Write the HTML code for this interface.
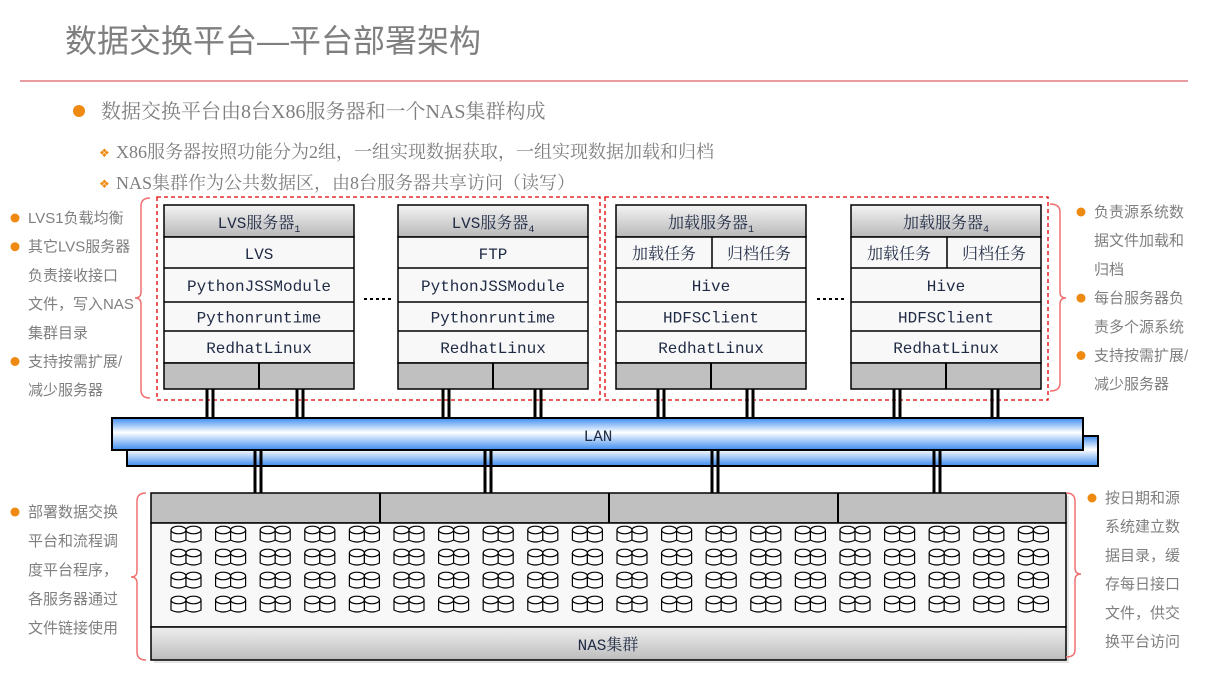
<!DOCTYPE html>
<html><head><meta charset="utf-8"><style>
html,body{margin:0;padding:0;background:#fff;}
svg{display:block;}
.sv{font-family:"Liberation Mono","Noto Serif CJK SC",monospace;font-size:16px;fill:#1f2a44;}
.side{font-family:"Liberation Sans","Noto Sans CJK SC",sans-serif;font-size:15px;fill:#7f7f7f;}
</style></head><body>
<svg id="s" width="1209" height="680" viewBox="0 0 1209 680" xmlns="http://www.w3.org/2000/svg">
<defs>
<linearGradient id="hd" x1="0" y1="0" x2="0" y2="1"><stop offset="0" stop-color="#f4f4f4"/><stop offset="1" stop-color="#b8b8b8"/></linearGradient>
<linearGradient id="lan" x1="0" y1="0" x2="0" y2="1"><stop offset="0" stop-color="#3d8cf0"/><stop offset="0.45" stop-color="#ffffff"/><stop offset="1" stop-color="#3d8cf0"/></linearGradient>
<linearGradient id="nb" x1="0" y1="0" x2="0" y2="1"><stop offset="0" stop-color="#eeeeee"/><stop offset="1" stop-color="#bdbdbd"/></linearGradient>
</defs>
<text x="65" y="52" font-family="Liberation Sans,Noto Sans CJK SC,sans-serif" font-size="32" fill="#7f7f7f">数据交换平台—平台部署架构</text>
<line x1="20" y1="81" x2="1188" y2="81" stroke="#e07a80" stroke-width="1.5"/>
<circle cx="79" cy="111" r="6" fill="#ee8a12"/>
<text x="101" y="118" font-family="Liberation Serif,Noto Serif CJK SC,serif" font-size="20" fill="#7f7f7f">数据交换平台由8台X86服务器和一个NAS集群构成</text>
<text x="99" y="157" font-size="12" fill="#ee8a12">❖</text>
<text x="116" y="158" font-family="Liberation Serif,Noto Serif CJK SC,serif" font-size="18" fill="#7f7f7f">X86服务器按照功能分为2组，一组实现数据获取，一组实现数据加载和归档</text>
<text x="99" y="188" font-size="12" fill="#ee8a12">❖</text>
<text x="116" y="189" font-family="Liberation Serif,Noto Serif CJK SC,serif" font-size="18" fill="#7f7f7f">NAS集群作为公共数据区，由8台服务器共享访问（读写）</text>

<rect x="157" y="197" width="443" height="203" fill="none" stroke="#e00000" stroke-width="1.3" stroke-dasharray="4,3"/>
<rect x="605" y="197" width="443" height="203" fill="none" stroke="#e00000" stroke-width="1.3" stroke-dasharray="4,3"/>
<g id="servers"></g>
<g stroke="#000" stroke-width="2" stroke-dasharray="3,3"><line x1="364" y1="299" x2="393" y2="299"/><line x1="817" y1="299" x2="846" y2="299"/></g>

<g id="conn" stroke="#000" stroke-width="3"></g>
<rect x="127" y="436" width="971" height="30" fill="url(#lan)" stroke="#000" stroke-width="2"/>
<rect x="112" y="418" width="971" height="32" fill="url(#lan)" stroke="#000" stroke-width="2"/>
<text x="598" y="441" text-anchor="middle" class="sv" font-size="15">LAN</text>
<g id="conn2" stroke="#000" stroke-width="3"></g>

<rect x="154" y="496" width="915" height="167" fill="#ccc" opacity="0.5"/>
<rect x="151" y="493" width="915" height="30" fill="#c0c0c0" stroke="#000" stroke-width="1.5"/>
<g stroke="#000" stroke-width="2"><line x1="380" y1="493" x2="380" y2="523"/><line x1="609" y1="493" x2="609" y2="523"/><line x1="838" y1="493" x2="838" y2="523"/></g>
<rect x="151" y="523" width="915" height="104" fill="#f8f8f8" stroke="#000" stroke-width="1.5"/>
<rect x="151" y="627" width="915" height="33" fill="url(#nb)" stroke="#000" stroke-width="1.5"/>
<text x="608" y="650" text-anchor="middle" class="sv">NAS集群</text>
<g id="disks" fill="#fff" stroke="#000" stroke-width="1.2"></g>

<g fill="none" stroke="#f07070" stroke-width="1.5">
<path d="M150,198 Q141,198 141,206 L141,292 Q141,298 135,298 Q141,298 141,304 L141,390 Q141,398 150,398"/>
<path d="M1050,204 Q1060,204 1060,212 L1060,292 Q1060,298 1066,298 Q1060,298 1060,304 L1060,383 Q1060,391 1050,391"/>
<path d="M146,493 Q137,493 137,501 L137,571 Q137,577 131,577 Q137,577 137,583 L137,652 Q137,660 146,660"/>
<path d="M1066,493 Q1075,493 1075,501 L1075,568 Q1075,574 1081,574 Q1075,574 1075,580 L1075,650 Q1075,657 1066,657"/>
</g>
<g id="side"></g>
</svg>
<script>
var NS="http://www.w3.org/2000/svg";
function el(p,t,a,txt){var e=document.createElementNS(NS,t);for(var k in a)e.setAttribute(k,a[k]);if(txt!=null)e.textContent=txt;document.getElementById(p).appendChild(e);return e;}
var rowsY=[237,268,302,331,363];
function server(x,title,sub,r1,rest){
 var w=190,cx=x+w/2;
 el("servers","rect",{x:x,y:205,width:w,height:32,fill:"url(#hd)",stroke:"#000","stroke-width":1.5});
 var t=el("servers","text",{x:cx,y:228,"text-anchor":"middle","class":"sv","font-size":17});
 t.appendChild(document.createTextNode(title));
 var ts=document.createElementNS(NS,"tspan");ts.setAttribute("font-size","10");ts.setAttribute("dy","4");ts.textContent=sub;t.appendChild(ts);
 el("servers","rect",{x:x,y:237,width:w,height:126,fill:"#f8f8f8",stroke:"#000","stroke-width":1.5});
 for(var i=1;i<4;i++)el("servers","line",{x1:x,y1:rowsY[i],x2:x+w,y2:rowsY[i],stroke:"#000","stroke-width":1.5});
 if(Array.isArray(r1)){
  el("servers","line",{x1:x+96,y1:237,x2:x+96,y2:268,stroke:"#000","stroke-width":1.5});
  el("servers","text",{x:x+48,y:259,"text-anchor":"middle","class":"sv","font-size":18},r1[0]);
  el("servers","text",{x:x+143,y:259,"text-anchor":"middle","class":"sv","font-size":18},r1[1]);
 } else el("servers","text",{x:cx,y:259,"text-anchor":"middle","class":"sv"},r1);
 for(var i=0;i<3;i++)el("servers","text",{x:cx,y:(rowsY[i+1]+rowsY[i+2])/2+6,"text-anchor":"middle","class":"sv"},rest[i]);
 el("servers","rect",{x:x,y:363,width:w,height:26,fill:"#c0c0c0",stroke:"#000","stroke-width":1.5});
 el("servers","line",{x1:x+95,y1:363,x2:x+95,y2:389,stroke:"#000","stroke-width":2});
}
server(164,"LVS服务器","1","LVS",["PythonJSSModule","Pythonruntime","RedhatLinux"]);
server(398,"LVS服务器","4","FTP",["PythonJSSModule","Pythonruntime","RedhatLinux"]);
server(616,"加载服务器","1",["加载任务","归档任务"],["Hive","HDFSClient","RedhatLinux"]);
server(851,"加载服务器","4",["加载任务","归档任务"],["Hive","HDFSClient","RedhatLinux"]);
[210,300,446,538,661,750,897,995].forEach(function(x){
 el("conn","line",{x1:x-3,y1:389,x2:x-3,y2:418});el("conn","line",{x1:x+3,y1:389,x2:x+3,y2:418});});
[258,488,715,937].forEach(function(x){
 el("conn2","line",{x1:x-3,y1:450,x2:x-3,y2:493});el("conn2","line",{x1:x+3,y1:450,x2:x+3,y2:493});});
var ys=[534,557,580,604];
for(var r=0;r<4;r++)for(var i=0;i<20;i++){
 var px=171+i*44.6;
 for(var k=0;k<2;k++){var x=px+k*15,y=ys[r]-8;
  el("disks","path",{d:"M"+x+","+(y+4)+" L"+x+","+(y+14)+" Q"+(x+7.5)+","+(y+18)+" "+(x+15)+","+(y+14)+" L"+(x+15)+","+(y+4)});
  el("disks","ellipse",{cx:x+7.5,cy:y+4,rx:7.5,ry:3.8});}
}
function side(x,y0,lh,lines,bullets,fs){
 lines.forEach(function(s,i){var y=y0+i*lh;
  if(bullets.indexOf(i)>=0)el("side","circle",{cx:x-13,cy:y-5,r:4.5,fill:"#ee8a12"});
  el("side","text",{x:x,y:y,"class":"side","font-size":fs},s);});
}
side(28,223,28.7,["LVS1负载均衡","其它LVS服务器","负责接收接口","文件，写入NAS","集群目录","支持按需扩展/","减少服务器"],[0,1,5],15);
side(1094,217,28.7,["负责源系统数","据文件加载和","归档","每台服务器负","责多个源系统","支持按需扩展/","减少服务器"],[0,3,5],15);
side(28,517,29,["部署数据交换","平台和流程调","度平台程序，","各服务器通过","文件链接使用"],[0],15);
side(1105,503,28.7,["按日期和源","系统建立数","据目录，缓","存每日接口","文件，供交","换平台访问"],[0],15);
</script>
</body></html>
